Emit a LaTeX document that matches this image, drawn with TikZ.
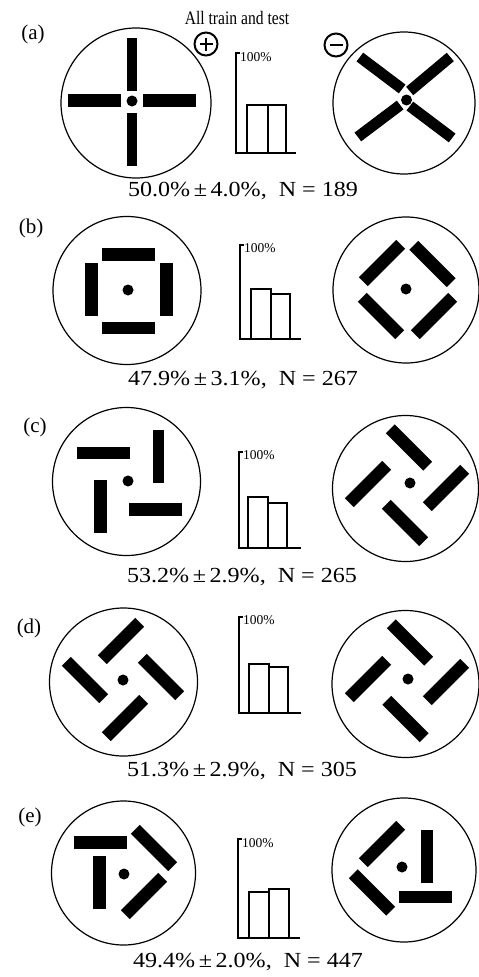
\documentclass[tikz,border=0pt]{standalone}
\usepackage{fontspec}
\setmainfont{Liberation Serif}
\newfontfamily\widefont[FakeStretch=1.12]{Liberation Serif}
\newfontfamily\narrowfont[FakeStretch=0.82]{Liberation Serif}
\usepackage{tikz}
\tikzstyle{disc} = [line width=1.2pt]
\tikzstyle{slab} = [rectangle, fill=black, inner sep=0pt, minimum width=53pt,
    minimum height=12.5pt]
\tikzstyle{spot} = [circle, fill=black, inner sep=0pt, minimum size=11pt]
\tikzstyle{axis} = [line width=1.2pt]
\tikzstyle{col} = [draw=black, line width=1.2pt, fill=white]
\tikzstyle{tag} = [inner sep=0pt, font=\fontsize{21}{24}\selectfont]
\tikzstyle{caption} = [inner sep=0pt, anchor=base,
    font=\widefont\fontsize{21.5}{25}\selectfont]
\tikzstyle{pct} = [inner sep=0pt, anchor=west, font=\fontsize{13.5}{15}\selectfont]
\tikzstyle{sign} = [circle, draw=black, line width=2pt, minimum size=23pt,
    inner sep=0pt]

\begin{document}
\begin{tikzpicture}[x=1pt, y=-1pt]
            \useasboundingbox (0,0) rectangle (479,977);
            % Heading
            \node[inner sep=0pt, anchor=base,
            font=\narrowfont\fontsize{19}{22}\selectfont]
            (title) at (237,24) {All train and test};
            \node[sign] (plus) at (206,44) {};
            \node[sign] (minus) at (336,45) {};
            \draw[line width=2.8pt] ([xshift=-6.5pt]plus.center) --
            ([xshift=6.5pt]plus.center);
            \draw[line width=2.8pt] ([yshift=-6.5pt]plus.center) --
            ([yshift=6.5pt]plus.center);
            \draw[line width=2.8pt] ([xshift=-6.5pt]minus.center) --
            ([xshift=6.5pt]minus.center);

            % (a)
            \node[tag] (taga) at (33,34) {(a)};
            \draw[disc] (136,103) circle (75pt);
            \node[slab, minimum height=10pt, rotate=90] at (132,64.5) {};
            \node[slab, minimum height=10pt, rotate=90] at (132,139.5) {};
            \node[slab] at (94.5,100.5) {};
            \node[slab] at (169,100.5) {};
            \node[spot] at (132,101) {};
            \draw[disc] (404,103) circle (71pt);
            \node[slab, minimum height=11pt, rotate=-37] at (381,73) {};
            \node[slab, minimum height=11pt, rotate=40] at (430,74) {};
            \node[slab, minimum height=11pt, rotate=37] at (379,121) {};
            \node[slab, minimum height=11pt, rotate=-37] at (431,122) {};
            \node[spot] at (406.5,100) {};
            \draw[axis] (240,53) -- (236,53) -- (236,153) -- (296,153);
            \draw[col] (247,153) rectangle (268,105);
            \draw[col] (268,153) rectangle (286,105);
            \node[pct] (pcta) at (240,57) {100\%};
            \node[caption] (capa) at (243,196)
            {50.0\%\,±\,4.0\%,~~N~=~189};

            % (b)
            \node[tag] (tagb) at (31,228) {(b)};
            \draw[disc] (127,290.5) circle (74pt);
            \node[slab] at (128.5,254.5) {};
            \node[slab] at (128.5,328) {};
            \node[slab, rotate=90] at (91.5,289) {};
            \node[slab, rotate=90] at (166.5,289) {};
            \node[spot] at (128,290) {};
            \draw[disc] (406,290) circle (73pt);
            \node[slab, rotate=45] at (382,263) {};
            \node[slab, rotate=-45] at (432.5,264) {};
            \node[slab, rotate=-45] at (381,316) {};
            \node[slab, rotate=45] at (434,316) {};
            \node[spot] at (406,289) {};
            \draw[axis] (244,245) -- (240,245) -- (240,339) -- (301,339);
            \draw[col] (251,339) rectangle (271,289);
            \draw[col] (271,339) rectangle (290,294);
            \node[pct] (pctb) at (244,248) {100\%};
            \node[caption] (capb) at (243,385)
            {47.9\%\,±\,3.1\%,~~N~=~267};

            % (c)
            \node[tag] (tagc) at (35,427) {(c)};
            \draw[disc] (126.5,481.5) circle (74pt);
            \node[slab] at (103.5,453) {};
            \node[slab, minimum height=11pt, rotate=90] at (158.5,456) {};
            \node[slab, rotate=90] at (100.5,506.5) {};
            \node[slab] at (155.5,509.5) {};
            \node[spot] at (128,481) {};
            \draw[disc] (405.5,488.5) circle (73pt);
            \node[slab, rotate=-45] at (409,447.5) {};
            \node[slab, rotate=45] at (368,484) {};
            \node[slab, rotate=45] at (446,488) {};
            \node[slab, rotate=-45] at (405,523) {};
            \node[spot] at (410,483) {};
            \draw[axis] (243,452) -- (239,452) -- (239,548) -- (301,548);
            \draw[col] (248,548) rectangle (268,497);
            \draw[col] (268,548) rectangle (287,503);
            \node[pct] (pctc) at (243,455) {100\%};
            \node[caption] (capc) at (242,582)
            {53.2\%\,±\,2.9\%,~~N~=~265};

            % (d)
            \node[tag] (tagd) at (29,628) {(d)};
            \draw[disc] (123.5,682) circle (74pt);
            \node[slab, rotate=45] at (121,641) {};
            \node[slab, rotate=-45] at (85,680) {};
            \node[slab, rotate=-45] at (161,677) {};
            \node[slab, rotate=45] at (125,718) {};
            \node[spot] at (123,680) {};
            \draw[disc] (405.5,684) circle (73.5pt);
            \node[slab, rotate=-45] at (410,642.5) {};
            \node[slab, rotate=45] at (368,679) {};
            \node[slab, rotate=45] at (446,682) {};
            \node[slab, rotate=-45] at (405.5,719) {};
            \node[spot] at (408,679) {};
            \draw[axis] (243,617) -- (239,617) -- (239,713) -- (301,713);
            \draw[col] (249,713) rectangle (269,664);
            \draw[col] (269,713) rectangle (288,667);
            \node[pct] (pctd) at (243,620) {100\%};
            \node[caption] (capd) at (242,776)
            {51.3\%\,±\,2.9\%,~~N~=~305};

            % (e)
            \node[tag] (tage) at (30,817) {(e)};
            \draw[disc] (123.5,873) circle (72pt);
            \node[slab] at (100.5,842.5) {};
            \node[slab, rotate=90] at (99.5,882.5) {};
            \node[slab, rotate=-45] at (154,848) {};
            \node[slab, rotate=45] at (144,896) {};
            \node[spot] at (124,874) {};
            \draw[disc] (404,870) circle (72pt);
            \node[slab, rotate=45] at (382,844) {};
            \node[slab, minimum height=12pt, rotate=90] at (427,856.5) {};
            \node[slab, minimum height=12pt] at (425.5,897) {};
            \node[slab, rotate=-45] at (372,892.5) {};
            \node[spot] at (402,867) {};
            \draw[axis] (242,839) -- (238,839) -- (238,938) -- (300,938);
            \draw[col] (249,938) rectangle (269,892);
            \draw[col] (269,938) rectangle (289,889);
            \node[pct] (pcte) at (242,843) {100\%};
            \node[caption] (cape) at (248,967)
            {49.4\%\,±\,2.0\%,~~N~=~447};

        \end{tikzpicture}
\end{document}
